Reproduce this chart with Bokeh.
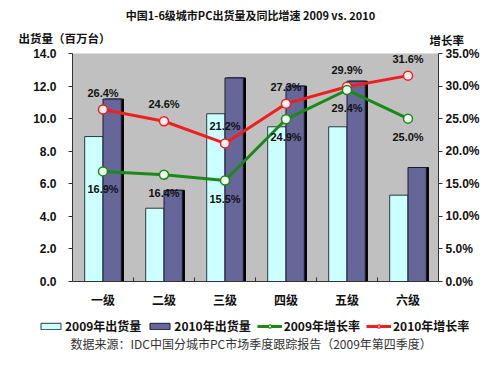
from bokeh.plotting import figure
from bokeh.layouts import column
from bokeh.models import (Range1d, LinearAxis, ColumnDataSource, Legend, LegendItem,
                          FixedTicker, NumeralTickFormatter, CustomJSTickFormatter)
from bokeh.transform import dodge
from bokeh.core.properties import value
from bokeh.embed import file_html
from bokeh.resources import INLINE

categories = ["一级", "二级", "三级", "四级", "五级", "六级"]
ship_2009 = [8.9, 4.5, 10.3, 9.5, 9.5, 5.3]
ship_2010 = [11.2, 5.6, 12.5, 12.0, 12.3, 7.0]
growth_2009 = [16.9, 16.4, 15.5, 24.9, 29.4, 25.0]
growth_2010 = [26.4, 24.6, 21.2, 27.3, 29.9, 31.6]
left_ticks = [0, 2, 4, 6, 8, 10, 12, 14]
right_ticks = [0, 5, 10, 15, 20, 25, 30, 35]
title_text = "中国1-6级城市PC出货量及同比增速 2009 vs. 2010"
left_title = "出货量（百万台）"
right_title = "增长率"
source_text = "数据来源：IDC中国分城市PC市场季度跟踪报告（2009年第四季度）"
series_names = ["2009年出货量", "2010年出货量", "2009年增长率", "2010年增长率"]

FONT = "'Liberation Sans', 'Noto Sans CJK SC', sans-serif"
CJK = "'Noto Sans CJK SC', sans-serif"
W = 484
TOP_H, MAIN_H, BOT_H = 46, 266, 39
FL, FR = 72, 438

C09, C10 = "#CCFFFF", "#666699"
RED, GREEN = "#F01E1E", "#178A17"
NAN = float("nan")


def blank(h):
    f = figure(width=W, height=h, x_range=Range1d(0, W), y_range=Range1d(0, h),
               x_axis_type=None, y_axis_type=None, output_backend="svg",
               toolbar_location=None, min_border=0, frame_align=False)
    f.outline_line_color = None
    f.grid.visible = False
    f.background_fill_color = "white"
    f.border_fill_color = "white"
    return f


# ---------- top strip: titles ----------
top = blank(TOP_H)
top.text(x=[250], y=[TOP_H - 14], text=[title_text], text_align="center",
         text_baseline="middle", text_font=value(CJK), text_font_style="bold",
         text_font_size="11px", text_color="#111111")
top.text(x=[18, 429], y=[TOP_H - 37, TOP_H - 39], text=[left_title, right_title],
         text_align="left", text_baseline="middle", text_font=value(CJK),
         text_font_style="bold", text_font_size="11.5px", text_color="#111111")

# ---------- main chart ----------
p = figure(x_range=categories, y_range=Range1d(0, 14), width=W, height=MAIN_H,
           output_backend="svg", toolbar_location=None, frame_align=False,
           min_border_left=FL, min_border_right=W - FR, min_border_top=7,
           min_border_bottom=31)
p.extra_y_ranges = {"pct": Range1d(0, 35)}
p.background_fill_color = "#C0C0C0"
p.border_fill_color = "white"
p.outline_line_color = None
p.xgrid.grid_line_color = None
p.ygrid.grid_line_color = None

src = ColumnDataSource(dict(cat=categories, s09=ship_2009, s10=ship_2010,
                            g09=growth_2009, g10=growth_2010,
                            t09=[f"{v:.1f}%" for v in growth_2009],
                            t10=[f"{v:.1f}%" for v in growth_2010]))

p.vbar(x=dodge("cat", -0.15, range=p.x_range), top="s09", width=0.3, source=src,
       fill_color=C09, line_color="#2a3a3a", line_width=1)
p.vbar(x=dodge("cat", 0.185, range=p.x_range), top="s10", width=0.3, source=src,
       fill_color="black", line_color="black")
p.vbar(x=dodge("cat", 0.15, range=p.x_range), top="s10", width=0.3, source=src,
       fill_color=C10, line_color="#1a1a33", line_width=1)

bsrc = ColumnDataSource(dict(b=categories[1:], y0=[0] * 5, y1=[0.25] * 5))
p.segment(x0=dodge("b", -0.5, range=p.x_range), x1=dodge("b", -0.5, range=p.x_range),
          y0="y0", y1="y1", source=bsrc, line_color="#333333", line_width=1)

p.line(x="cat", y="g10", source=src, y_range_name="pct", line_color=RED, line_width=3)
p.scatter(x="cat", y="g10", source=src, y_range_name="pct", size=9,
          fill_color="#FFF0F0", line_color=RED, line_width=1.5)
p.line(x="cat", y="g09", source=src, y_range_name="pct", line_color=GREEN, line_width=3)
p.scatter(x="cat", y="g09", source=src, y_range_name="pct", size=9,
          fill_color="#F0FFF0", line_color=GREEN, line_width=1.5)

p.text(x="cat", y="g10", text="t10", source=src, y_range_name="pct", y_offset=-17,
       text_align="center", text_baseline="middle", text_font=value(FONT),
       text_font_style="bold", text_font_size="11px", text_color="#111111")
p.text(x="cat", y="g09", text="t09", source=src, y_range_name="pct", y_offset=18,
       text_align="center", text_baseline="middle", text_font=value(FONT),
       text_font_style="bold", text_font_size="11px", text_color="#111111")

p.yaxis.ticker = FixedTicker(ticks=left_ticks)
p.yaxis.formatter = NumeralTickFormatter(format="0.0")
p.yaxis.major_tick_in = 0
p.yaxis.major_tick_out = 4
p.yaxis.minor_tick_line_color = None
p.yaxis.major_label_standoff = 12
p.yaxis.axis_line_color = "#333333"
p.yaxis.major_tick_line_color = "#333333"
p.yaxis.major_label_text_font = FONT
p.yaxis.major_label_text_font_style = "bold"
p.yaxis.major_label_text_font_size = "12px"
p.yaxis.major_label_text_color = "#111111"

ra = LinearAxis(y_range_name="pct", ticker=FixedTicker(ticks=right_ticks),
                formatter=CustomJSTickFormatter(code="return tick.toFixed(1) + '%';"))
ra.major_tick_in = 0
ra.major_tick_out = 4
ra.minor_tick_line_color = None
ra.major_label_standoff = 3
ra.axis_line_color = "#333333"
ra.major_tick_line_color = "#333333"
ra.major_label_text_font = FONT
ra.major_label_text_font_style = "bold"
ra.major_label_text_font_size = "12px"
ra.major_label_text_color = "#111111"
p.add_layout(ra, "right")

p.xaxis.major_tick_line_color = None
p.xaxis.major_tick_out = 0
p.xaxis.major_tick_in = 0
p.xaxis.axis_line_color = "#333333"
p.xaxis.major_label_standoff = 9
p.xaxis.major_label_text_font = CJK
p.xaxis.major_label_text_font_style = "bold"
p.xaxis.major_label_text_font_size = "12px"
p.xaxis.major_label_text_color = "#111111"

# ---------- bottom strip: legend + source ----------
bot = blank(BOT_H)
r1 = bot.vbar(x=[NAN], top=[NAN], width=1, fill_color=C09, line_color="#2a3a3a")
r2 = bot.vbar(x=[NAN], top=[NAN], width=1, fill_color=C10, line_color="#1a1a33")
r3l = bot.line(x=[NAN], y=[NAN], line_color=GREEN, line_width=3)
r3m = bot.scatter(x=[NAN], y=[NAN], size=7, fill_color="#F0FFF0", line_color=GREEN, line_width=1.2)
r4l = bot.line(x=[NAN], y=[NAN], line_color=RED, line_width=3)
r4m = bot.scatter(x=[NAN], y=[NAN], size=7, fill_color="#FFF0F0", line_color=RED, line_width=1.2)

legend = Legend(items=[
    LegendItem(label=series_names[0], renderers=[r1]),
    LegendItem(label=series_names[1], renderers=[r2]),
    LegendItem(label=series_names[2], renderers=[r3l, r3m]),
    LegendItem(label=series_names[3], renderers=[r4l, r4m]),
], orientation="horizontal", location=(38, BOT_H - 22))
legend.background_fill_alpha = 0
legend.border_line_color = None
legend.label_text_font = CJK
legend.label_text_font_style = "bold"
legend.label_text_font_size = "12px"
legend.label_text_color = "#111111"
legend.glyph_width = 25
legend.glyph_height = 8
legend.spacing = 6
legend.label_standoff = 2
legend.padding = 0
legend.margin = 0
bot.add_layout(legend, "center")

bot.text(x=[70], y=[BOT_H - 31], text=[source_text], text_align="left",
         text_baseline="middle", text_font=value(CJK), text_font_size="12px",
         text_color="#333333")

layout = column(top, p, bot, spacing=0)
open("out.html", "w").write(file_html(layout, INLINE))
